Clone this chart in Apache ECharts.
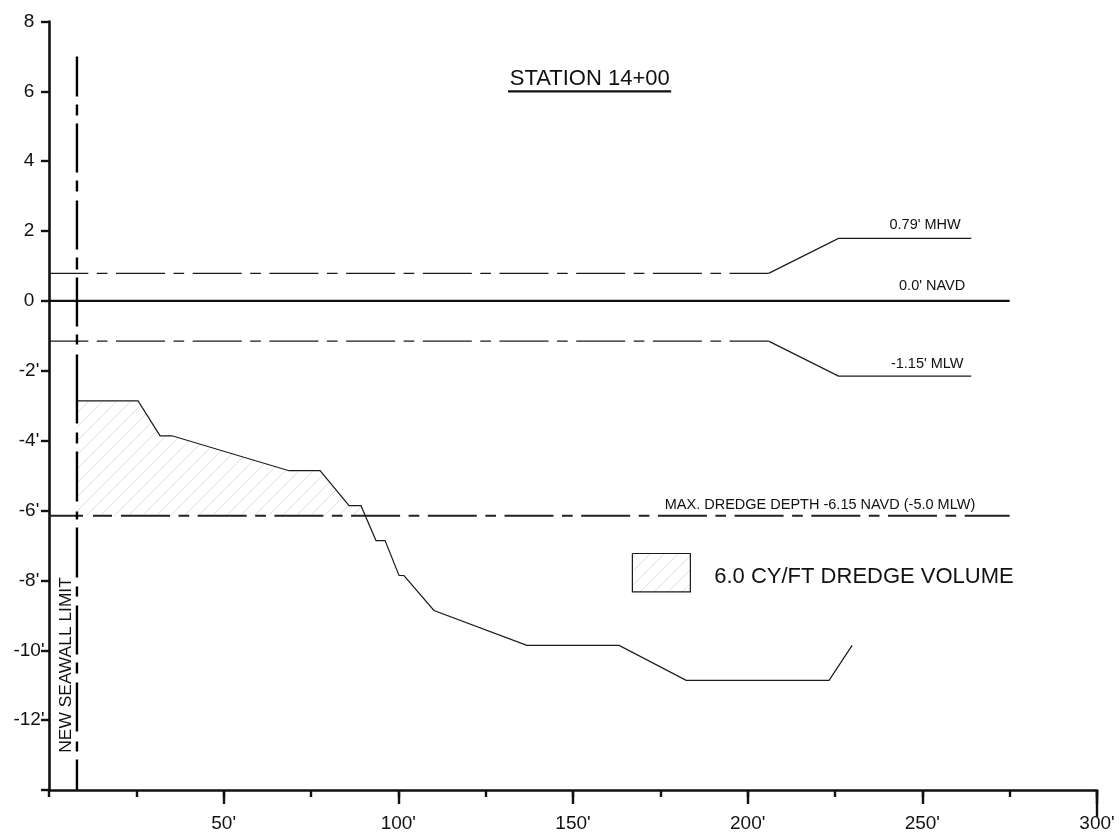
<!DOCTYPE html>
<html><head><meta charset="utf-8">
<style>html,body{margin:0;padding:0;background:#fff}#c{width:1120px;height:833px}</style>
<script src="https://cdn.jsdelivr.net/npm/echarts@6/dist/echarts.min.js"></script>
</head><body><div id="c"></div>
<script>
const xTickValues = [0, 50, 100, 150, 200, 250, 300];
const xTickLabels = ["", "50'", "100'", "150'", "200'", "250'", "300'"];
const yTickValues = [8, 6, 4, 2, 0, -2, -4, -6, -8, -10, -12, -14];
const yTickLabels = ["8", "6", "4", "2", "0", "-2'", "-4'", "-6'", "-8'", "-10'", "-12'", ""];

const profile = [[8,-2.86],[25.5,-2.86],[31.8,-3.86],[35.2,-3.86],[68.7,-4.86],[77.6,-4.86],[85.9,-5.86],[89.3,-5.86],[93.6,-6.86],[96.2,-6.86],[100.2,-7.86],[101.6,-7.86],[110.2,-8.86],[136.8,-9.86],[163.2,-9.86],[182.4,-10.86],[223.3,-10.86],[229.9,-9.86]];
const dredgeArea = [[8,-2.86],[25.5,-2.86],[31.8,-3.86],[35.2,-3.86],[68.7,-4.86],[77.6,-4.86],[85.9,-5.86],[89.3,-5.86],[90.4,-6.15]];
const dredgeLevel = -6.15;
const mhwDashed = [[0,0.79],[206,0.79]];
const mhwSolid = [[206,0.79],[226,1.79],[264,1.79]];
const mlwDashed = [[0,-1.15],[206,-1.15]];
const mlwSolid = [[206,-1.15],[226,-2.15],[264,-2.15]];
const navd = [[0,0],[275,0]];
const dredgeLine = [[0,-6.15],[275,-6.15]];
const seawall = [[8,7],[8,-14]];
const titleRule = [[131.4,6],[178.1,6]];
const endTick = [[300,-14],[300,-14.77]];
const swatchTop = [[167,-7.23],[183.6,-7.23]];
const swatchBottom = -8.33;
const swatchOutline = [[167,-7.23],[183.6,-7.23],[183.6,-8.33],[167,-8.33],[167,-7.23]];

const noteTexts = ["STATION 14+00","0.79' MHW","0.0' NAVD","-1.15' MLW","MAX. DREDGE DEPTH -6.15 NAVD (-5.0 MLW)","6.0 CY/FT DREDGE VOLUME","NEW SEAWALL LIMIT"];
const noteX = [154.8,250.8,252.8,251.4,220.7,233.3,4.8];
const noteY = [6.36,2.17,0.43,-1.8,-5.83,-7.89,-10.42];
const noteSizes = [22,14.5,14.5,14.5,14.5,22,17.4];
const noteRotate = [0,0,0,0,0,0,90];

const FONT = "Liberation Sans";
const INK = "#111";

function hatch() {
  const s = 14, c = document.createElement('canvas');
  c.width = s; c.height = s;
  const g = c.getContext('2d');
  g.strokeStyle = '#e0e0e0'; g.lineWidth = 1;
  g.beginPath();
  g.moveTo(-2, s + 2); g.lineTo(s + 2, -2);
  g.moveTo(-2, 2); g.lineTo(2, -2);
  g.moveTo(s - 2, s + 2); g.lineTo(s + 2, s - 2);
  g.stroke();
  return { image: c, repeat: 'repeat' };
}
const pattern = hatch();

function line(data, width, extra) {
  return Object.assign({
    type: 'line', data, symbol: 'none', silent: true, clip: false, animation: false,
    lineStyle: Object.assign({ color: '#1a1a1a', width, cap: 'butt', join: 'miter' }, extra || {})
  });
}
const centreDash = [49, 8.5, 10.7, 8.5];
const wallDash = [40,8,11,8,49,8,11,9,49,8,12,8,49,8,10,10,69,9,11,8,50,10,8,8,50,9,10,9,49,8,11,9,49,10,10,8,60];
let dredgeDash = [34,10,19,9];
for (let i = 0; i < 12; i++) dredgeDash = dredgeDash.concat(centreDash);

const series = [
  Object.assign(line(dredgeArea, 0), { areaStyle: { color: pattern, origin: dredgeLevel, opacity: 1 }, lineStyle: { width: 0 } }),
  Object.assign(line(swatchTop, 0), { areaStyle: { color: pattern, origin: swatchBottom, opacity: 1 }, lineStyle: { width: 0 } }),
  line(swatchOutline, 1.2),
  line(profile, 1.2),
  line(navd, 2.2, { color: '#111' }),
  line(dredgeLine, 2, { type: dredgeDash, color: '#222' }),
  line(mhwDashed, 1.2, { type: centreDash, dashOffset: 9.7 }),
  line(mhwSolid, 1.2),
  line(mlwDashed, 1.2, { type: centreDash, dashOffset: 9.7 }),
  line(mlwSolid, 1.2),
  line(seawall, 2.4, { type: wallDash, color: '#000' }),
  line(titleRule, 2.4, { color: '#111' }),
  line(endTick, 2.4, { color: '#111' }),
  {
    type: 'scatter', symbolSize: 0, silent: true, animation: false, clip: false,
    itemStyle: { color: 'transparent', opacity: 1 },
    data: noteTexts.map((t, i) => ({
      value: [noteX[i], noteY[i]],
      label: { show: true, position: 'inside', formatter: t, fontSize: noteSizes[i], rotate: noteRotate[i],
        fontFamily: FONT, color: INK, align: 'center', verticalAlign: 'middle' }
    }))
  }
];

const chart = echarts.init(document.getElementById('c'), null, { renderer: 'canvas' });
chart.setOption({
  animation: false,
  backgroundColor: '#fff',
  grid: { left: 49, right: 23, top: 21.5, bottom: 43, containLabel: false },
  xAxis: [
    { type: 'value', min: 0, max: 300, interval: 50, position: 'bottom', splitLine: { show: false },
      axisLine: { show: true, onZero: false, lineStyle: { color: '#111', width: 2.6 } },
      axisTick: { show: true, customValues: xTickValues.slice(1), length: 14, lineStyle: { color: '#111', width: 2.4 } },
      axisLabel: { show: true, margin: 24, fontSize: 19, fontFamily: FONT, color: INK, showMinLabel: true, showMaxLabel: true,
        formatter: v => xTickLabels[xTickValues.indexOf(v)] } },
    { type: 'value', min: 0, max: 300, interval: 25, position: 'bottom', splitLine: { show: false },
      axisLine: { show: false, onZero: false },
      axisTick: { show: true, length: 7, lineStyle: { color: '#111', width: 2.4 } },
      axisLabel: { show: false } }
  ],
  yAxis: {
    type: 'value', min: -14, max: 8, interval: 2, position: 'left', splitLine: { show: false },
    axisLine: { show: true, onZero: false, lineStyle: { color: '#111', width: 2.6 } },
    axisTick: { show: true, length: 8, lineStyle: { color: '#111', width: 2.4 } },
    axisLabel: { show: true, margin: 20, align: 'center', fontSize: 19, fontFamily: FONT, color: INK,
      showMinLabel: true, showMaxLabel: true, formatter: v => yTickLabels[yTickValues.indexOf(v)] }
  },
  series
});
</script></body></html>
